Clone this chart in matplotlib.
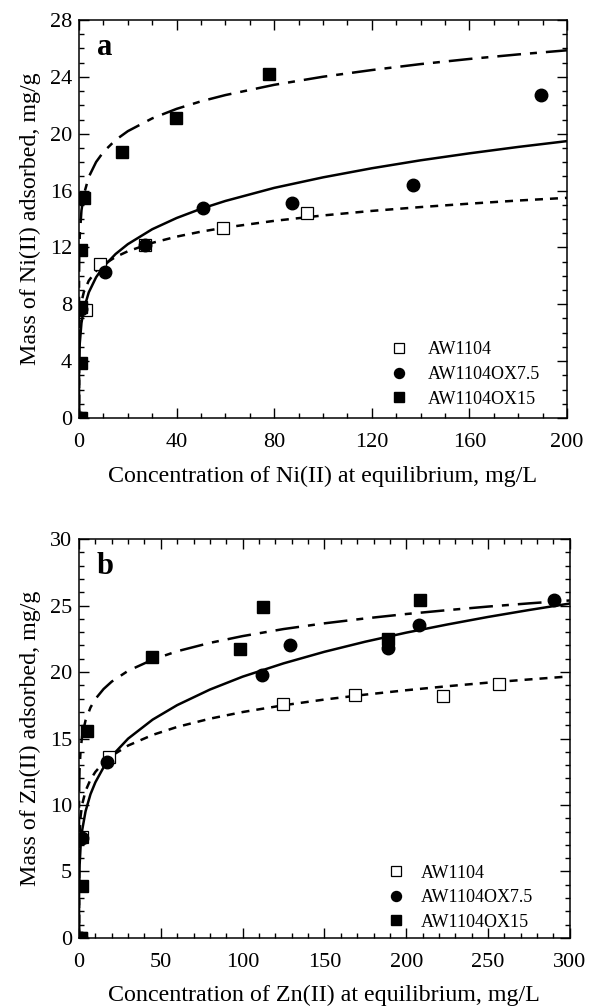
import matplotlib
matplotlib.use("Agg")
import matplotlib.pyplot as plt
from matplotlib.ticker import MultipleLocator

plt.rcParams['font.family'] = ['Liberation Serif', 'DejaVu Serif']

labels = ['AW1104', 'AW1104OX7.5', 'AW1104OX15']

# panel a - Ni(II), measured points
ni_aw_x = [0.3, 2.9, 8.6, 27, 58.9, 93.3]
ni_aw_y = [0, 7.6, 10.8, 12.2, 13.4, 14.4]
ni_ox75_x = [0.3, 1.0, 10.7, 27, 50.9, 87.4, 136.7, 189.2]
ni_ox75_y = [0, 7.7, 10.3, 12.2, 14.8, 15.1, 16.4, 22.7]
ni_ox15_x = [1.0, 1.0, 1.0, 1.0, 2.2, 17.7, 39.6, 78]
ni_ox15_y = [0, 3.9, 7.8, 11.8, 15.5, 18.7, 21.1, 24.2]

# panel a - fitted curves
ni_fit_x = [0, 0.02, 0.1, 0.3, 1, 2, 4, 7, 10, 15, 20, 30, 40, 50, 60,
            80, 100, 120, 140, 160, 180, 200]
ni_fit_aw = [0, 5.09, 6.19, 7.06, 8.17, 8.88, 9.66, 10.34, 10.79, 11.33,
             11.73, 12.32, 12.76, 13.11, 13.40, 13.87, 14.25, 14.57, 14.84,
             15.08, 15.30, 15.49]
ni_fit_ox75 = [0, 3.03, 4.20, 5.24, 6.68, 7.68, 8.84, 9.90, 10.64, 11.54,
               12.23, 13.28, 14.07, 14.72, 15.27, 16.19, 16.93, 17.57, 18.13,
               18.62, 19.07, 19.48]
ni_fit_ox15 = [0, 9.57, 11.39, 12.82, 14.6, 15.73, 16.96, 18.01, 18.72,
               19.56, 20.18, 21.08, 21.75, 22.28, 22.72, 23.44, 24.01, 24.48,
               24.90, 25.26, 25.58, 25.87]

# panel b - Zn(II), measured points
zn_aw_x = [1, 2, 18.3, 124.4, 168.6, 222.2, 256.8]
zn_aw_y = [0, 7.6, 13.6, 17.6, 18.3, 18.2, 19.1]
zn_ox75_x = [1, 2, 16.9, 111.6, 128.9, 188.6, 207.7, 290.2]
zn_ox75_y = [0, 7.5, 13.2, 19.8, 22.0, 21.8, 23.5, 25.4]
zn_ox15_x = [1.5, 1.6, 4.7, 44.4, 98.4, 112.6, 189, 208.7]
zn_ox15_y = [0, 3.9, 15.6, 21.1, 21.7, 24.9, 22.5, 25.4]

zn_fit_x = [0, 0.02, 0.1, 0.3, 1, 2, 4, 7, 10, 15, 20, 30, 45, 60, 80, 100,
            125, 150, 175, 200, 225, 250, 275, 300]
zn_fit_aw = [0, 5.45, 6.76, 7.83, 9.19, 10.08, 11.06, 11.91, 12.49, 13.19,
             13.70, 14.47, 15.27, 15.87, 16.49, 16.99, 17.50, 17.93, 18.30,
             18.63, 18.93, 19.20, 19.44, 19.67]
zn_fit_ox75 = [0, 2.90, 4.16, 5.33, 6.98, 8.16, 9.53, 10.81, 11.71, 12.83,
               13.68, 14.99, 16.42, 17.51, 18.68, 19.65, 20.65, 21.52, 22.28,
               22.96, 23.57, 24.14, 24.66, 25.15]
zn_fit_ox15 = [0, 9.56, 11.25, 12.58, 14.22, 15.26, 16.37, 17.33, 17.97,
               18.72, 19.28, 20.09, 20.93, 21.56, 22.19, 22.70, 23.23, 23.66,
               24.03, 24.36, 24.65, 24.92, 25.16, 25.38]

fig = plt.figure(figsize=(6, 10.06), dpi=100)
ax1 = fig.add_axes([0.1317, 0.5845, 0.8133, 0.3956])
ax2 = fig.add_axes([0.1317, 0.0676, 0.818, 0.3966])

dash_aw = (0, (3.2, 2.8))
dash_ox15 = (0, (9.5, 3.6, 2.8, 3.6))


def draw(ax, fx, faw, f75, f15, pts, leg_anchor, textpad):
    ax.plot(fx, faw, color='black', lw=1.8, linestyle=dash_aw)
    ax.plot(fx, f75, color='black', lw=1.8, linestyle='-')
    ax.plot(fx, f15, color='black', lw=1.8, linestyle=dash_ox15)
    (ax_x, ax_y), (b_x, b_y), (c_x, c_y) = pts
    ax.plot(ax_x, ax_y, 's', ms=8.4, mfc='white', mec='black', mew=0.9,
            ls='none', label=labels[0])
    ax.plot(b_x, b_y, 'o', ms=9, color='black', ls='none', label=labels[1])
    ax.plot(c_x, c_y, 's', ms=9, color='black', ls='none', label=labels[2])
    ax.tick_params(which='both', direction='in', top=True, right=True,
                   labelsize=16, width=1)
    ax.tick_params(axis='x', which='major', length=7, pad=11)
    ax.tick_params(axis='y', which='major', length=7, pad=5)
    ax.tick_params(which='minor', length=3.5)
    for s in ax.spines.values():
        s.set_linewidth(1.1)
    ax.legend(loc='lower right', frameon=False, fontsize=13,
              handletextpad=textpad, labelspacing=0.42, borderaxespad=0,
              markerscale=0.8, bbox_to_anchor=leg_anchor)


draw(ax1, ni_fit_x, ni_fit_aw, ni_fit_ox75, ni_fit_ox15,
     [(ni_aw_x, ni_aw_y), (ni_ox75_x, ni_ox75_y), (ni_ox15_x, ni_ox15_y)],
     (0.96, 0.008), 0.6)
ax1.set_xlim(0, 200)
ax1.set_ylim(0, 28)
ax1.xaxis.set_major_locator(MultipleLocator(40))
ax1.xaxis.set_minor_locator(MultipleLocator(10))
ax1.yaxis.set_major_locator(MultipleLocator(4))
ax1.yaxis.set_minor_locator(MultipleLocator(1))
ax1.set_xlabel('Concentration of Ni(II) at equilibrium, mg/L', fontsize=17.3,
               labelpad=10)
ax1.set_ylabel('Mass of Ni(II) adsorbed, mg/g', fontsize=17.3, labelpad=6)
ax1.text(0.036, 0.93, 'a', transform=ax1.transAxes, fontsize=22,
         fontweight='bold', va='center')

draw(ax2, zn_fit_x, zn_fit_aw, zn_fit_ox75, zn_fit_ox15,
     [(zn_aw_x, zn_aw_y), (zn_ox75_x, zn_ox75_y), (zn_ox15_x, zn_ox15_y)],
     (0.939, 0.0), 0.35)
ax2.set_xlim(0, 300)
ax2.set_ylim(0, 30)
ax2.xaxis.set_major_locator(MultipleLocator(50))
ax2.xaxis.set_minor_locator(MultipleLocator(10))
ax2.yaxis.set_major_locator(MultipleLocator(5))
ax2.yaxis.set_minor_locator(MultipleLocator(1))
ax2.set_xlabel('Concentration of Zn(II) at equilibrium, mg/L', fontsize=17.3,
               labelpad=9)
ax2.set_ylabel('Mass of Zn(II) adsorbed, mg/g', fontsize=17.3, labelpad=6)
ax2.text(0.036, 0.93, 'b', transform=ax2.transAxes, fontsize=22,
         fontweight='bold', va='center')

fig.savefig('out.png', dpi=100)
